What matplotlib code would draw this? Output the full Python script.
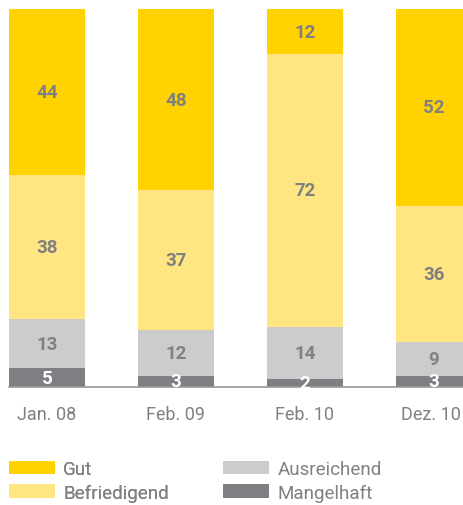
import matplotlib
matplotlib.use("Agg")
import matplotlib.pyplot as plt
from matplotlib.patches import Patch
from matplotlib.transforms import ScaledTranslation
import numpy as np

plt.rcParams['font.family'] = ['Roboto', 'DejaVu Sans']

categories = ["Jan. 08", "Feb. 09", "Feb. 10", "Dez. 10"]
mangelhaft = [5, 3, 2, 3]
ausreichend = [13, 12, 14, 9]
befriedigend = [38, 37, 72, 36]
gut = [44, 48, 12, 52]

series = [("Mangelhaft", mangelhaft, "#7f7e82", "white"),
          ("Ausreichend", ausreichend, "#cccccc", "#808080"),
          ("Befriedigend", befriedigend, "#ffe682", "#808080"),
          ("Gut", gut, "#ffd200", "#808080")]

fig = plt.figure(figsize=(4.64, 5.06), dpi=100)
W, H = 464.0, 506.0
ax = fig.add_axes([9 / W, 1 - 388 / H, 455 / W, 378 / H])

x = np.arange(len(categories))
width = 76 / 129
bottom = np.zeros(len(categories))
for name, vals, color, tcolor in series:
    vals = np.array(vals, dtype=float)
    ax.bar(x, vals, width, bottom=bottom, color=color, label=name, linewidth=0)
    for xi, b, v in zip(x, bottom, vals):
        ax.text(xi, b + v / 2, str(int(v)), ha="center", va="center",
                fontsize=13.5, fontweight="bold", color=tcolor)
    bottom += vals

ax.set_xlim(-width / 2, 3 + 30 / 129)
ax.set_ylim(0, 100)
ax.set_xticks(x)
ax.set_xticklabels(categories, fontsize=13, color="#808080")
ax.tick_params(axis="x", length=0, pad=13)
# last label sits right at the figure edge, nudge it left a bit
last = ax.get_xticklabels()[-1]
last.set_transform(last.get_transform() + ScaledTranslation(-3 / 100, 0, fig.dpi_scale_trans))
ax.set_yticks([])
for s in ["top", "left", "right"]:
    ax.spines[s].set_visible(False)
ax.spines["bottom"].set_color("#999999")
ax.spines["bottom"].set_linewidth(1.2)

handles = {name: Patch(color=color, linewidth=0) for name, _, color, _ in series}
kw = dict(frameon=False, fontsize=13.5, handlelength=2.45, handleheight=0.75,
          handletextpad=0.45, labelspacing=0.3, borderpad=0, borderaxespad=0,
          labelcolor="#808080", loc="upper left")
leg1 = fig.legend([handles["Gut"], handles["Befriedigend"]], ["Gut", "Befriedigend"],
                  bbox_to_anchor=(9 / W, 1 - 461 / H), **kw)
fig.add_artist(leg1)
fig.legend([handles["Ausreichend"], handles["Mangelhaft"]], ["Ausreichend", "Mangelhaft"],
           bbox_to_anchor=(223 / W, 1 - 461 / H), **kw)

fig.savefig("out.png", dpi=100)
